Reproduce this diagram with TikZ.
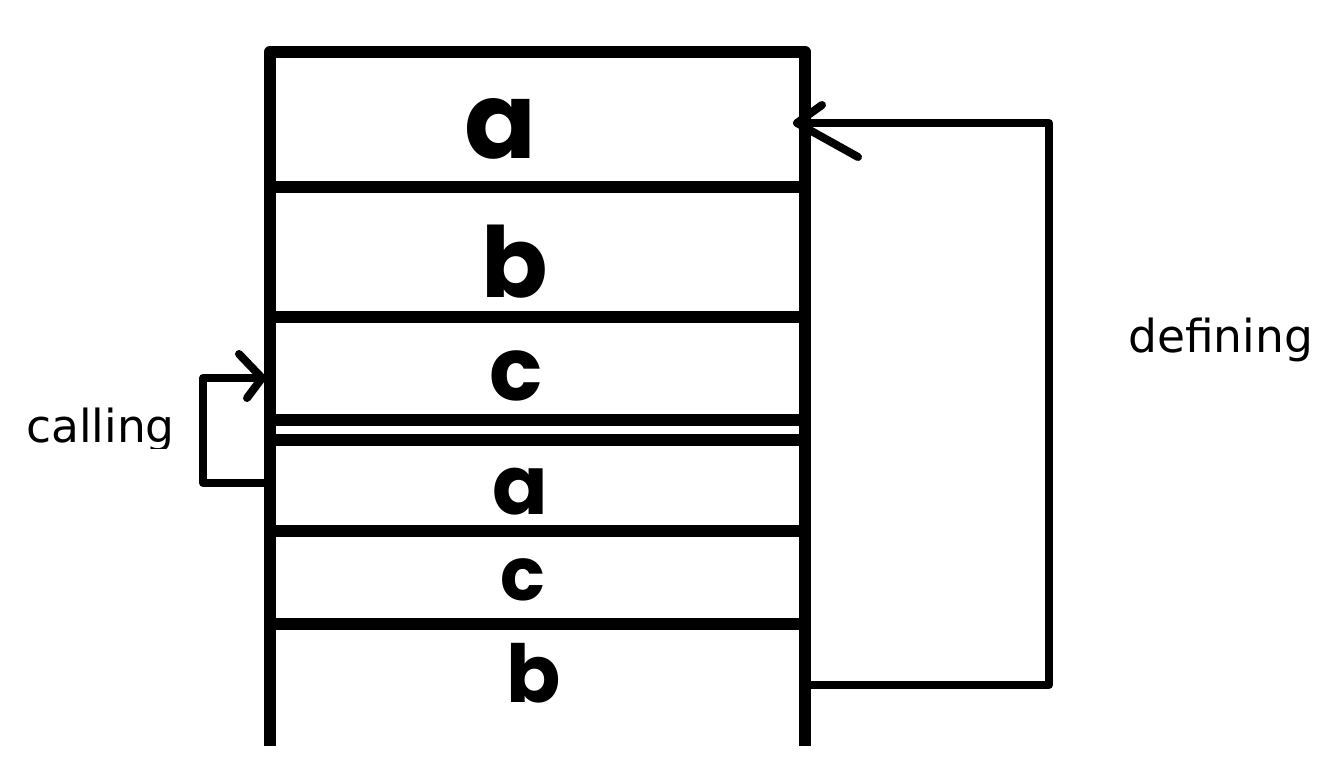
\documentclass[tikz,border=0pt]{standalone}
\usepackage{fontspec}
\setmainfont{DejaVu Sans}
\newfontfamily\handfont{Poppins}
\begin{document}
\begin{tikzpicture}[x=1pt,y=-1pt,
  wall/.style={line width=12.5pt,line join=round,line cap=butt},
  link/.style={line width=8pt,line join=round,line cap=round},
  letter/.style={inner sep=0pt,font=\handfont\bfseries},
  caption/.style={inner sep=0pt,anchor=base west,font=\fontsize{45.5}{50}\selectfont}]
\useasboundingbox (0,0) rectangle (1326,760);

% stack frame: two walls and the top edge
\coordinate (tl) at (270,52);
\coordinate (tr) at (805,52);
\coordinate (bl) at (270,746);
\coordinate (br) at (805,746);
\draw[wall] (bl) -- (tl) -- (tr) -- (br);

% separators between the frames
\foreach \y in {187,317,420,440,531,624}
  \draw[wall] (270,\y) -- (805,\y);

% frame contents
\node[letter,font=\handfont\bfseries\fontsize{106}{110}\selectfont] (a1) at (500,129) {a};
\node[letter,font=\handfont\bfseries\fontsize{98}{110}\selectfont] (b1) at (515,262) {b};
\node[letter,font=\handfont\bfseries\fontsize{88}{100}\selectfont] (c1) at (516,376) {c};
\node[letter,font=\handfont\bfseries\fontsize{82}{90}\selectfont] (a2) at (520,492) {a};
\node[letter,font=\handfont\bfseries\fontsize{74}{80}\selectfont] (c2) at (523,580) {c};
\node[letter,font=\handfont\bfseries\fontsize{80}{90}\selectfont] (b2) at (534,673) {b};

% defining link: from the lower b back up to the first a
\coordinate (defout) at (805,685);
\coordinate (defturn) at (1049,685);
\coordinate (defin) at (797,123);
\draw[link] (defout) -- (defturn) |- (defin);
\draw[link] (822,105) -- (defin) -- (858,157);
\node[caption] (deflabel) at (1128,352) {defining};

% calling link: from the second a into c
\coordinate (callout) at (270,483);
\coordinate (callturn) at (203,483);
\coordinate (callin) at (262,378);
\draw[link] (callout) -- (callturn) |- (callin);
\draw[link] (239,354) -- (callin) -- (247,398);
\begin{scope}
  \clip (0,380) rectangle (200,448);
  \node[caption] (calllabel) at (26,442) {calling};
\end{scope}
\end{tikzpicture}
\end{document}
